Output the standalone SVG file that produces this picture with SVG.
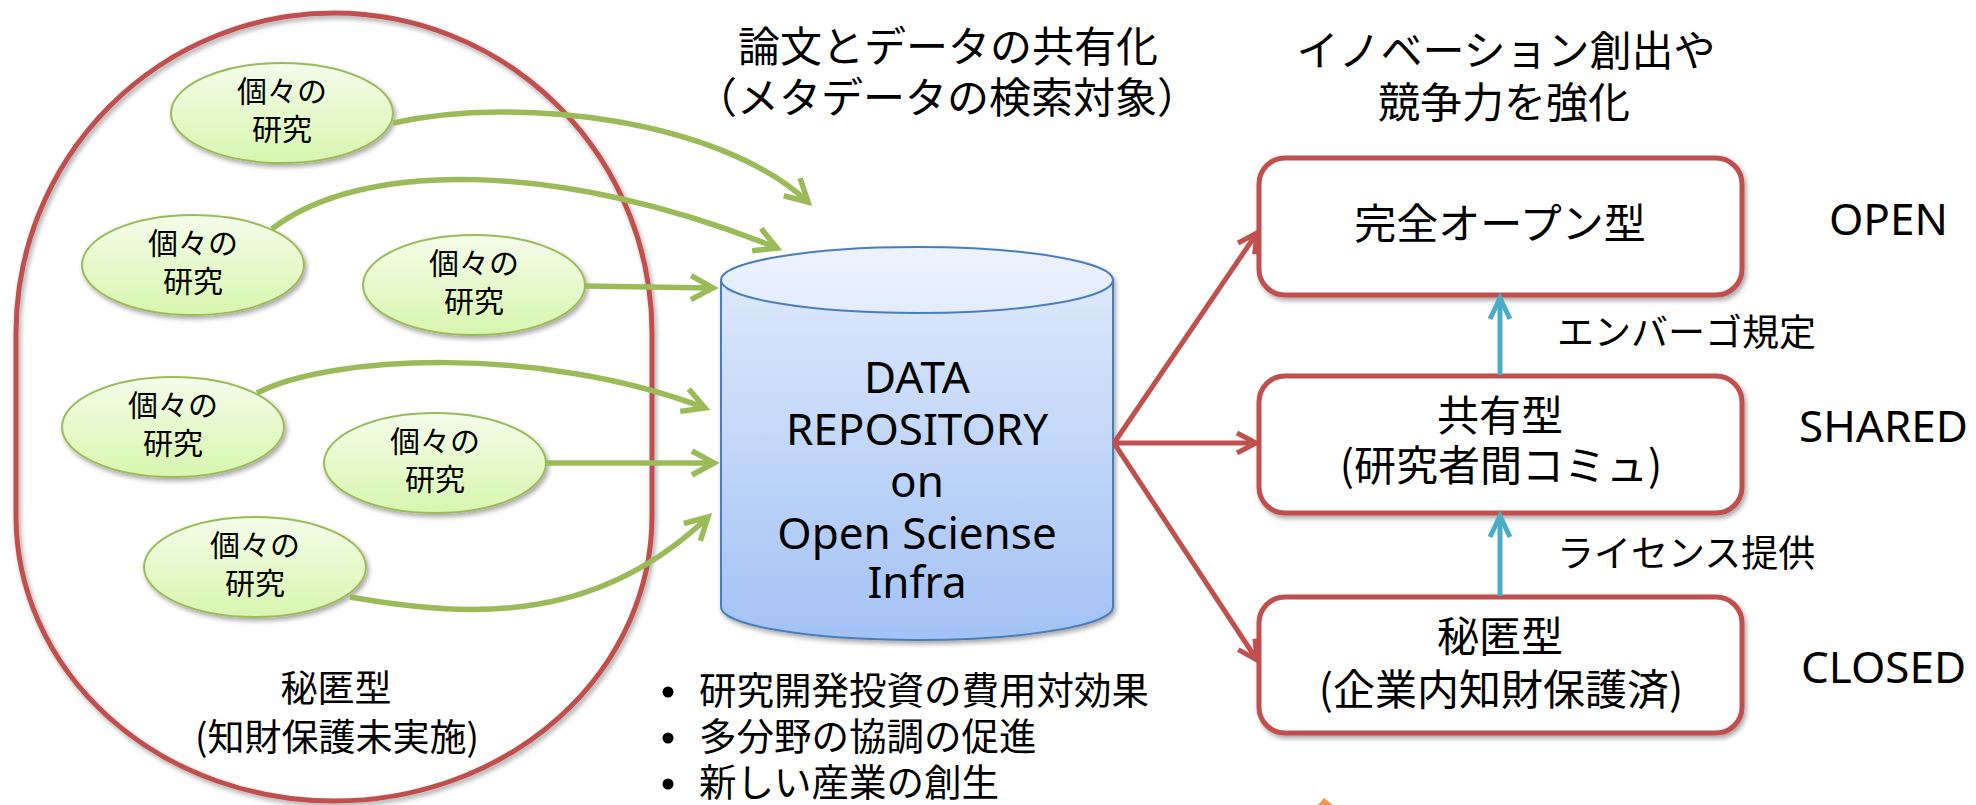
<svg xmlns="http://www.w3.org/2000/svg" width="1976" height="805" viewBox="0 0 1976 805">
  <style>
    .jp { font-family: "Noto Sans CJK JP", "Noto Sans", sans-serif; fill: #000; }
    .en { font-family: "Noto Sans", "DejaVu Sans", sans-serif; fill: #000; }
    .mid { text-anchor: middle; }
    .bubble { fill: url(#gBubble); stroke: #9BBB59; stroke-width: 2; }
    .bubble-text { font-size: 30px; }
    .box { fill: #fff; stroke: #C0504D; stroke-width: 5; }
    .green { fill: none; stroke: #9BBB59; stroke-width: 5.5; marker-end: url(#headGreen); }
    .red { fill: none; stroke: #C0504D; stroke-width: 5; marker-end: url(#headRed); }
    .blue { fill: none; stroke: #4BACC6; stroke-width: 5; marker-end: url(#headBlue); }
  </style>
  <defs>
    <linearGradient id="gBubble" x1="0" y1="0" x2="0" y2="1">
      <stop offset="0" stop-color="#F4FCEA"/>
      <stop offset="1" stop-color="#D8F6AE"/>
    </linearGradient>
    <linearGradient id="gDrum" x1="0" y1="0" x2="0" y2="1">
      <stop offset="0" stop-color="#DCE8FB"/>
      <stop offset="1" stop-color="#A3C2F5"/>
    </linearGradient>
    <linearGradient id="gCap" x1="0" y1="0" x2="0" y2="1">
      <stop offset="0" stop-color="#EDF3FD"/>
      <stop offset="1" stop-color="#E2ECFC"/>
    </linearGradient>
    <filter id="shadow" x="-10%" y="-10%" width="125%" height="125%">
      <feGaussianBlur in="SourceAlpha" stdDeviation="2.5"/>
      <feOffset dx="2" dy="3" result="off"/>
      <feComponentTransfer><feFuncA type="linear" slope="0.35"/></feComponentTransfer>
      <feMerge><feMergeNode/><feMergeNode in="SourceGraphic"/></feMerge>
    </filter>
    <marker id="headGreen" markerUnits="userSpaceOnUse" viewBox="-30 -20 40 40" markerWidth="40" markerHeight="40" refX="0" refY="0" orient="auto" overflow="visible">
      <path d="M-22,-12 L0,0 L-22,12" fill="none" stroke="#9BBB59" stroke-width="5.5"/>
    </marker>
    <marker id="headRed" markerUnits="userSpaceOnUse" viewBox="-30 -20 40 40" markerWidth="40" markerHeight="40" refX="0" refY="0" orient="auto" overflow="visible">
      <path d="M-19,-10 L0,0 L-19,10" fill="none" stroke="#C0504D" stroke-width="5"/>
    </marker>
    <marker id="headBlue" markerUnits="userSpaceOnUse" viewBox="-30 -20 40 40" markerWidth="40" markerHeight="40" refX="0" refY="0" orient="auto" overflow="visible">
      <path d="M-21,-10 L0,0 L-21,10" fill="none" stroke="#4BACC6" stroke-width="5"/>
    </marker>
  </defs>

  <rect width="1976" height="805" fill="#fff"/>

  <!-- enclosing region of unprotected research -->
  <g id="closed-region">
    <path d="M16,333 A318,320 0 0 1 652,333 L652,516 A318,285 0 0 1 16,516 Z" fill="none" stroke="#C0504D" stroke-width="5" filter="url(#shadow)"/>
    <text class="jp mid" x="336" y="702" font-size="37">秘匿型</text>
    <text class="jp mid" x="337" y="751" font-size="37">(知財保護未実施)</text>
  </g>

  <!-- individual research bubbles -->
  <g id="research-1">
    <ellipse class="bubble" cx="282" cy="113" rx="111" ry="50" filter="url(#shadow)"/>
    <text class="jp mid bubble-text" x="282" y="102">個々の</text>
    <text class="jp mid bubble-text" x="282" y="140">研究</text>
  </g>
  <g id="research-2">
    <ellipse class="bubble" cx="193" cy="265" rx="111" ry="50" filter="url(#shadow)"/>
    <text class="jp mid bubble-text" x="193" y="254">個々の</text>
    <text class="jp mid bubble-text" x="193" y="292">研究</text>
  </g>
  <g id="research-3">
    <ellipse class="bubble" cx="474" cy="285" rx="111" ry="50" filter="url(#shadow)"/>
    <text class="jp mid bubble-text" x="474" y="274">個々の</text>
    <text class="jp mid bubble-text" x="474" y="312">研究</text>
  </g>
  <g id="research-4">
    <ellipse class="bubble" cx="173" cy="427" rx="111" ry="50" filter="url(#shadow)"/>
    <text class="jp mid bubble-text" x="173" y="416">個々の</text>
    <text class="jp mid bubble-text" x="173" y="454">研究</text>
  </g>
  <g id="research-5">
    <ellipse class="bubble" cx="435" cy="463" rx="111" ry="50" filter="url(#shadow)"/>
    <text class="jp mid bubble-text" x="435" y="452">個々の</text>
    <text class="jp mid bubble-text" x="435" y="490">研究</text>
  </g>
  <g id="research-6">
    <ellipse class="bubble" cx="255" cy="567" rx="111" ry="50" filter="url(#shadow)"/>
    <text class="jp mid bubble-text" x="255" y="556">個々の</text>
    <text class="jp mid bubble-text" x="255" y="594">研究</text>
  </g>

  <!-- central repository drum -->
  <g id="repository">
    <g filter="url(#shadow)">
      <path d="M721,280 L721,607 A196,33 0 0 0 1113,607 L1113,280 Z" fill="url(#gDrum)" stroke="#4A7EBB" stroke-width="2"/>
      <ellipse cx="917" cy="280" rx="196" ry="33" fill="url(#gCap)" stroke="#4A7EBB" stroke-width="2"/>
    </g>
    <text class="en mid" x="917" y="393" font-size="44">DATA</text>
    <text class="en mid" x="917" y="445" font-size="44">REPOSITORY</text>
    <text class="en mid" x="917" y="497" font-size="44">on</text>
    <text class="en mid" x="917" y="549" font-size="44">Open Sciense</text>
    <text class="en mid" x="917" y="598" font-size="44">Infra</text>
  </g>

  <!-- headings -->
  <g id="heading-sharing">
    <text class="jp mid" x="948" y="62" font-size="42">論文とデータの共有化</text>
    <text class="jp mid" x="947" y="113" font-size="42">（メタデータの検索対象）</text>
  </g>
  <g id="heading-innovation">
    <text class="jp mid" x="1506" y="66" font-size="42">イノベーション創出や</text>
    <text class="jp mid" x="1504" y="118" font-size="42">競争力を強化</text>
  </g>

  <!-- benefits list -->
  <g id="benefits">
    <circle cx="668" cy="692" r="5.5" fill="#000"/>
    <circle cx="668" cy="738" r="5.5" fill="#000"/>
    <circle cx="668" cy="784" r="5.5" fill="#000"/>
    <text class="jp" x="699" y="704" font-size="37.5">研究開発投資の費用対効果</text>
    <text class="jp" x="699" y="750" font-size="37.5">多分野の協調の促進</text>
    <text class="jp" x="699" y="796" font-size="37.5">新しい産業の創生</text>
  </g>

  <!-- access models -->
  <g id="model-open">
    <rect class="box" x="1259" y="158" width="483" height="137" rx="26" filter="url(#shadow)"/>
    <text class="jp mid" x="1500" y="239" font-size="42">完全オープン型</text>
  </g>
  <g id="model-shared">
    <rect class="box" x="1259" y="376" width="483" height="137" rx="26" filter="url(#shadow)"/>
    <text class="jp mid" x="1500" y="431" font-size="42">共有型</text>
    <text class="jp mid" x="1501" y="481" font-size="42">(研究者間コミュ)</text>
  </g>
  <g id="model-closed">
    <rect class="box" x="1259" y="597" width="483" height="136" rx="26" filter="url(#shadow)"/>
    <text class="jp mid" x="1500" y="652" font-size="42">秘匿型</text>
    <text class="jp mid" x="1501" y="705" font-size="42">(企業内知財保護済)</text>
  </g>

  <!-- side labels -->
  <g id="labels">
    <text class="en" x="1829" y="235" font-size="44">OPEN</text>
    <text class="en" x="1799" y="442" font-size="44">SHARED</text>
    <text class="en" x="1801" y="683" font-size="44">CLOSED</text>
    <text class="jp" x="1557" y="346" font-size="37">エンバーゴ規定</text>
    <text class="jp" x="1557" y="567" font-size="37">ライセンス提供</text>
  </g>

  <!-- small orange tip at the lower edge -->
  <path d="M1318,805 L1324,798 L1333,805 Z" fill="#F79646"/>

  <!-- connectors -->
  <g id="connectors">
    <path class="green" d="M393,123 C520,95 720,120 808,202"/>
    <path class="green" d="M272,229 C360,160 560,160 777,248"/>
    <path class="green" d="M585,286 L713,288"/>
    <path class="green" d="M257,393 C330,355 540,345 705,408"/>
    <path class="green" d="M545,463 L714,463"/>
    <path class="green" d="M350,597 C480,620 600,620 708,517"/>
    <path class="red" d="M1114,443 L1257,233"/>
    <path class="red" d="M1114,443 L1256,443"/>
    <path class="red" d="M1114,443 L1257,660"/>
    <path class="blue" d="M1500,375 L1500,298"/>
    <path class="blue" d="M1500,596 L1500,516"/>
  </g>
</svg>
